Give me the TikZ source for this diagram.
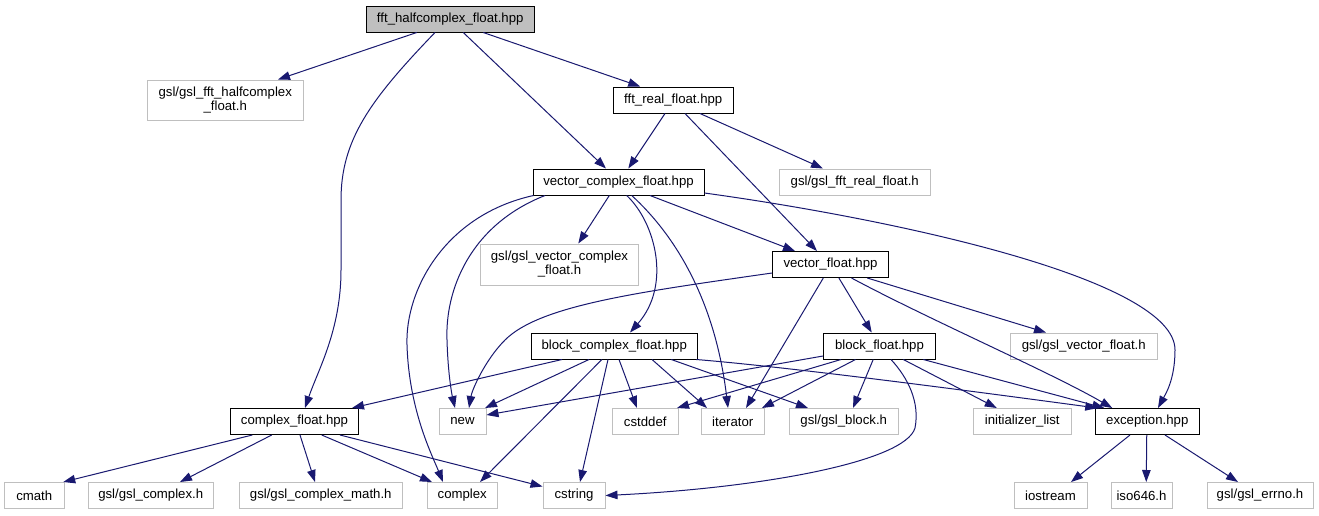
\documentclass[tikz,border=0pt]{standalone}
\usepackage{fontspec}
\setmainfont{Liberation Sans}
\usetikzlibrary{arrows.meta}
\definecolor{edgecol}{RGB}{25,25,112}
\definecolor{greyseventyfive}{RGB}{191,191,191}
\begin{document}
\begin{tikzpicture}[x=1pt,y=-1pt,
  box/.style={rectangle, inner sep=0pt, minimum height=26pt, line width=1pt,
    font=\fontsize{13.2}{14}\selectfont, align=center},
  intbox/.style={box, draw=black, fill=white},
  extbox/.style={box, draw=greyseventyfive, fill=white},
  rootbox/.style={box, draw=black, fill=greyseventyfive},
  edge/.style={draw=edgecol, line width=1pt, -{Triangle[length=12pt,width=8.5pt]}}
]
\fill[white] (0,0) rectangle (1319,515);
\useasboundingbox (0,0) rectangle (1319,515);

% nodes
\node[rootbox, minimum width=168.5pt] (root) at (450.25,19) {fft\_halfcomplex\_float.hpp};
\node[extbox, minimum width=156.5pt, minimum height=40pt] (ghalf) at (225.25,100) {gsl/gsl\_fft\_halfcomplex\\\_float.h};
\node[intbox, minimum width=119.5pt] (freal) at (673.25,100) {fft\_real\_float.hpp};
\node[intbox, minimum width=171pt] (vcf) at (618.5,182) {vector\_complex\_float.hpp};
\node[extbox, minimum width=151.5pt] (gfreal) at (854.75,182) {gsl/gsl\_fft\_real\_float.h};
\node[extbox, minimum width=158pt, minimum height=41pt] (gvcf) at (559.5,264.5) {gsl/gsl\_vector\_complex\\\_float.h};
\node[intbox, minimum width=116pt] (vf) at (830.5,264.5) {vector\_float.hpp};
\node[intbox, minimum width=166.5pt] (bcf) at (614.25,346) {block\_complex\_float.hpp};
\node[intbox, minimum width=112pt] (bf) at (879.5,346) {block\_float.hpp};
\node[extbox, minimum width=147.5pt] (gvf) at (1083.75,346) {gsl/gsl\_vector\_float.h};
\node[intbox, minimum width=128pt] (cf) at (294.5,421.5) {complex\_float.hpp};
\node[extbox, minimum width=47pt] (nnew) at (462.5,421.5) {new};
\node[extbox, minimum width=65.5pt] (cstddef) at (645.25,421.5) {cstddef};
\node[extbox, minimum width=62.5pt] (iterator) at (732.75,421.5) {iterator};
\node[extbox, minimum width=109.5pt] (gblock) at (843.75,421.5) {gsl/gsl\_block.h};
\node[extbox, minimum width=97.5pt] (initlist) at (1022.25,421.5) {initializer\_list};
\node[intbox, minimum width=103.5pt] (exc) at (1147.25,421.5) {exception.hpp};
\node[extbox, minimum width=59.5pt] (cmath) at (34.25,495.5) {cmath};
\node[extbox, minimum width=125.5pt] (gcomplex) at (150.75,495.5) {gsl/gsl\_complex.h};
\node[extbox, minimum width=163.5pt] (gcmath) at (320.75,495.5) {gsl/gsl\_complex\_math.h};
\node[extbox, minimum width=70.5pt] (complex) at (462.25,495.5) {complex};
\node[extbox, minimum width=62pt] (cstring) at (574,495.5) {cstring};
\node[extbox, minimum width=73pt] (iostream) at (1050.5,495.5) {iostream};
\node[extbox, minimum width=61pt] (iso646) at (1141.5,495.5) {iso646.h};
\node[extbox, minimum width=106pt] (gerrno) at (1260,495.5) {gsl/gsl\_errno.h};

% root edges
\draw[edge] ([xshift=-33.5pt]root.south) -- ([xshift=52.75pt]ghalf.north);
\draw[edge] ([xshift=-15.25pt]root.south) .. controls (370,100) and (341,140) .. (341,200) -- (341,270) .. controls (341,330) and (318,370) .. ([xshift=10.5pt]cf.north);
\draw[edge] ([xshift=13pt]root.south) -- ([xshift=-12.5pt]vcf.north);
\draw[edge] ([xshift=33pt]root.south) -- ([xshift=-33pt]freal.north);
% fft_real edges
\draw[edge] ([xshift=-8.25pt]freal.south) -- ([xshift=9.8pt]vcf.north);
\draw[edge] ([xshift=11.75pt]freal.south) -- ([xshift=-13.5pt]vf.north);
\draw[edge] ([xshift=26.75pt]freal.south) -- ([xshift=-31.75pt]gfreal.north);
% vector_complex edges
\draw[edge] ([xshift=-85pt]vcf.south) .. controls (445,215) and (405,290) .. (407,345) .. controls (409,410) and (432,455) .. ([xshift=-19.25pt]complex.north);
\draw[edge] ([xshift=-73.5pt]vcf.south) .. controls (470,225) and (445,290) .. (447,340) .. controls (448,375) and (452,395) .. ([xshift=-7.5pt]nnew.north);
\draw[edge] ([xshift=-9.2pt]vcf.south) -- ([xshift=18.8pt]gvcf.north);
\draw[edge] ([xshift=8.2pt]vcf.south) .. controls (655,222) and (672,285) .. ([xshift=15.75pt]bcf.north);
\draw[edge] ([xshift=13.2pt]vcf.south) .. controls (675,235) and (715,300) .. ([xshift=-4.75pt]iterator.north);
\draw[edge] ([xshift=31.5pt]vcf.south) -- ([xshift=-35.5pt]vf.north);
\draw[edge] ([yshift=-11pt]vcf.east) .. controls (900,220) and (1175,280) .. (1175,350) .. controls (1175,380) and (1165,395) .. ([xshift=10.75pt]exc.north);
% vector_float edges
\draw[edge] ([yshift=-8.5pt]vf.west) .. controls (640,292) and (540,305) .. (505,340) .. controls (485,360) and (472,390) .. ([xshift=6.5pt]nnew.north);
\draw[edge] ([xshift=-7.2pt]vf.south) -- ([xshift=13.25pt]iterator.north);
\draw[edge] ([xshift=8.4pt]vf.south) -- ([xshift=-7.8pt]bf.north);
\draw[edge] ([xshift=21pt]vf.south) .. controls (930,320) and (1050,372) .. ([xshift=-35pt]exc.north);
\draw[edge] ([xshift=36.8pt]vf.south) -- ([xshift=-37.75pt]gvf.north);
% block_complex edges
\draw[edge] ([xshift=-52.25pt]bcf.south) -- ([xshift=57.5pt]cf.north);
\draw[edge] ([xshift=-25.25pt]bcf.south) -- ([xshift=22.5pt]nnew.north);
\draw[edge] ([xshift=-12.35pt]bcf.south) -- ([xshift=17.75pt]complex.north);
\draw[edge] ([xshift=-6.25pt]bcf.south) -- ([xshift=6pt]cstring.north);
\draw[edge] ([xshift=4.75pt]bcf.south) -- ([xshift=-8.25pt]cstddef.north);
\draw[edge] ([xshift=37.75pt]bcf.south) -- ([xshift=-25.75pt]iterator.north);
\draw[edge] ([xshift=57pt]bcf.south) -- ([xshift=-35.75pt]gblock.north);
\draw[edge] ([xshift=82pt]bcf.south) .. controls (800,368) and (1000,395) .. ([xshift=-50pt]exc.north);
% block_float edges
\draw[edge] ([yshift=-10pt]bf.west) -- ([yshift=6.5pt]nnew.east);
\draw[edge] ([xshift=-38.5pt]bf.south) -- ([xshift=31.75pt]cstddef.north);
\draw[edge] ([xshift=-24pt]bf.south) -- ([xshift=29.25pt]iterator.north);
\draw[edge] ([xshift=-6.3pt]bf.south) -- ([xshift=9.25pt]gblock.north);
\draw[edge] ([xshift=11.5pt]bf.south) .. controls (908,378) and (920,402) .. (915,428) .. controls (905,462) and (760,488) .. (cstring.east);
\draw[edge] ([xshift=23.8pt]bf.south) -- ([xshift=-25.5pt]initlist.north);
\draw[edge] ([xshift=43.8pt]bf.south) -- ([xshift=-43pt]exc.north);
% complex_float edges
\draw[edge] ([xshift=-42.2pt]cf.south) -- ([xshift=29pt]cmath.north);
\draw[edge] ([xshift=-22.8pt]cf.south) -- ([xshift=29.25pt]gcomplex.north);
\draw[edge] ([xshift=5.5pt]cf.south) -- ([xshift=-5.75pt]gcmath.north);
\draw[edge] ([xshift=27.2pt]cf.south) -- ([xshift=-30.25pt]complex.north);
\draw[edge] ([xshift=45.5pt]cf.south) -- ([yshift=9pt]cstring.west);
% exception edges
\draw[edge] ([xshift=-17.25pt]exc.south) -- ([xshift=20.5pt]iostream.north);
\draw[edge] ([xshift=-0.5pt]exc.south) -- ([xshift=4.75pt]iso646.north);
\draw[edge] ([xshift=17.75pt]exc.south) -- ([xshift=-22pt]gerrno.north);
\end{tikzpicture}
\end{document}
